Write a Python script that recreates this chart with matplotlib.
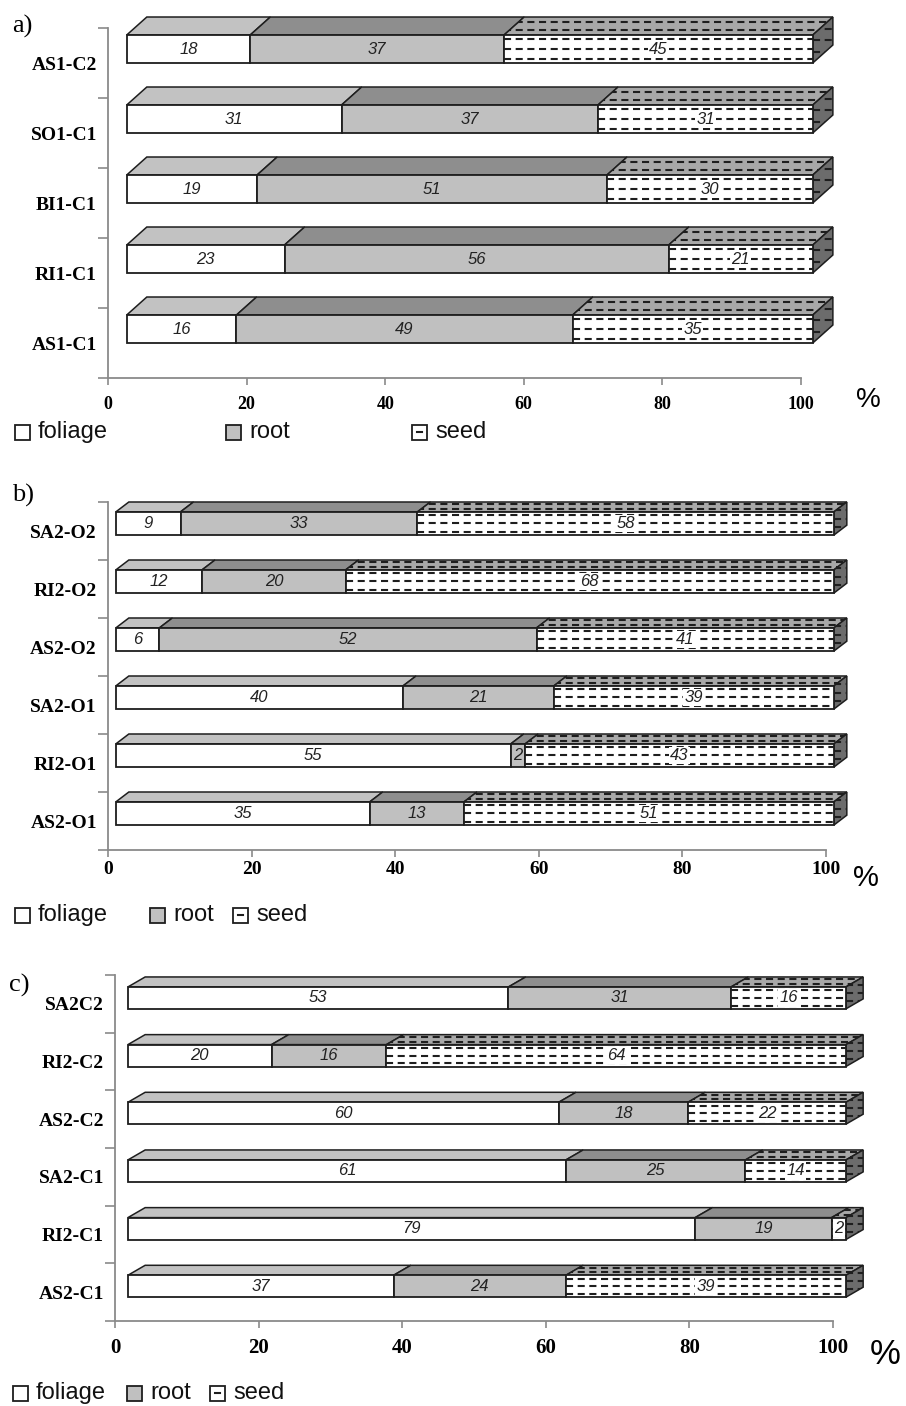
import matplotlib
matplotlib.use("Agg")
import matplotlib.pyplot as plt
from matplotlib.patches import Polygon, Rectangle
import numpy as np

W, H = 906, 1406
DPI = 100

# ---- data (categories listed top to bottom) ----
A_CATS = ["AS1-C2", "SO1-C1", "BI1-C1", "RI1-C1", "AS1-C1"]
A_FOLIAGE = [18, 31, 19, 23, 16]
A_ROOT = [37, 37, 51, 56, 49]
A_SEED = [45, 31, 30, 21, 35]

B_CATS = ["SA2-O2", "RI2-O2", "AS2-O2", "SA2-O1", "RI2-O1", "AS2-O1"]
B_FOLIAGE = [9, 12, 6, 40, 55, 35]
B_ROOT = [33, 20, 52, 21, 2, 13]
B_SEED = [58, 68, 41, 39, 43, 51]

C_CATS = ["SA2C2", "RI2-C2", "AS2-C2", "SA2-C1", "RI2-C1", "AS2-C1"]
C_FOLIAGE = [53, 20, 60, 61, 79, 37]
C_ROOT = [31, 16, 18, 25, 19, 24]
C_SEED = [16, 64, 22, 14, 2, 39]

X_TICKS = [0, 20, 40, 60, 80, 100]
LEGEND_LABELS = ["foliage", "root", "seed"]
PANEL_LABELS = ["a)", "b)", "c)"]

# ---- style ----
FRONT_COLORS = ["white", "#c0c0c0", "white"]
TOP_COLORS = ["#c2c2c2", "#8e8e8e", "#a8a8a8"]
SIDE_COLOR = "#6c6c6c"
EDGE = "#1e1e1e"
AXIS_GRAY = "#8a8a8a"
SERIF = "Liberation Serif"
SANS = "Liberation Sans"
DASH = (0, (3.4, 2.2))

# layout per panel: axes box in px (left, top, right, bottom), 3d geometry in data units
PANELS = [
    dict(box=(108, 28, 801, 378), x0=2.7, k=0.99, h=0.40, base=0.0, dx=2.9, dy=0.257,
         tick_fs=13, cat_fs=14, val_fs=12, xpad=8, ypad=8,
         pct=(868, 400, 20), lab=(12, 26), leg_y=432, leg_x=(15, 226, 412), leg_fs=17),
    dict(box=(108, 502, 826, 850), x0=1.1, k=1.0, h=0.40, base=-0.07, dx=1.8, dy=0.17,
         tick_fs=14, cat_fs=14, val_fs=12, xpad=3, ypad=8,
         pct=(866, 878, 21), lab=(12, 495), leg_y=915, leg_x=(15, 150, 233), leg_fs=17),
    dict(box=(115, 975, 833, 1321), x0=1.8, k=1.0, h=0.38, base=-0.087, dx=2.4, dy=0.173,
         tick_fs=15, cat_fs=14, val_fs=12, xpad=7, ypad=8,
         pct=(885, 1355, 25), lab=(9, 985), leg_y=1393, leg_x=(13, 127, 210), leg_fs=17),
]


def px_to_fig(x, y):
    return x / W, 1 - y / H


def dash_lines(ax, clip_patch, x_from, x_to, ys, z):
    for y in ys:
        ln, = ax.plot([x_from, x_to], [y, y], color=EDGE, lw=1.5, ls=DASH,
                      dash_capstyle="butt", zorder=z)
        ln.set_clip_box(None)
        ln.set_clip_path(clip_patch)


def draw_panel(ax, cats, foliage, root, seed, cfg):
    n = len(cats)
    dx, dy, h = cfg["dx"], cfg["dy"], cfg["h"]
    for i in range(n):
        yc = n - i - 0.5
        vals = [foliage[i], root[i], seed[i]]
        total = float(sum(vals))
        y0 = yc + cfg["base"]
        left = cfg["x0"]
        for j, v in enumerate(vals):
            w = v / total * 100 * cfg["k"]
            top = Polygon([(left, y0 + h), (left + w, y0 + h),
                           (left + w + dx, y0 + h + dy), (left + dx, y0 + h + dy)],
                          closed=True, facecolor=TOP_COLORS[j], edgecolor=EDGE,
                          linewidth=1.1, clip_on=False, zorder=2)
            ax.add_patch(top)
            bar = ax.barh(y0, w, height=h, left=left, align="edge",
                          color=FRONT_COLORS[j], edgecolor=EDGE, linewidth=1.3,
                          clip_on=False, zorder=3)[0]
            if j == 2:
                dash_lines(ax, bar, left, left + w,
                           [y0 + h * f for f in (0.15, 0.5, 0.85)], 4)
                dash_lines(ax, top, left, left + w + dx,
                           [y0 + h + dy * f for f in (0.3, 0.75)], 2.5)
            box = None
            if j == 2:
                box = dict(facecolor="white", edgecolor="none", pad=1.0)
            ax.text(left + w / 2, y0 + h / 2, str(v), ha="center", va="center",
                    fontsize=cfg["val_fs"], fontstyle="italic", family=SANS,
                    color="#222222", zorder=6, bbox=box)
            left += w
        # right side face of the bar
        side = Polygon([(left, y0), (left, y0 + h), (left + dx, y0 + h + dy), (left + dx, y0 + dy)],
                       closed=True, facecolor=SIDE_COLOR, edgecolor=EDGE,
                       linewidth=1.1, clip_on=False, zorder=2)
        ax.add_patch(side)
        dash_lines(ax, side, left, left + dx,
                   [y0 + (h + dy) * f for f in (0.25, 0.5, 0.75)], 2.5)

    ax.set_xlim(0, 100)
    ax.set_ylim(0, n)
    for s in ("top", "right"):
        ax.spines[s].set_visible(False)
    for s in ("left", "bottom"):
        ax.spines[s].set_color(AXIS_GRAY)
        ax.spines[s].set_linewidth(1.3)

    ax.set_xticks(X_TICKS)
    ax.set_xticklabels([str(t) for t in X_TICKS], family=SERIF, fontweight="bold",
                       fontsize=cfg["tick_fs"])
    ax.tick_params(axis="x", direction="out", length=5, width=1.2, color=AXIS_GRAY,
                   pad=cfg["xpad"])
    ax.set_yticks(np.arange(n + 1))
    ax.set_yticklabels([])
    ax.set_yticks(np.arange(n) + 0.5, minor=True)
    ax.set_yticklabels(cats[::-1], minor=True, family=SERIF, fontweight="bold",
                       fontsize=cfg["cat_fs"])
    ax.tick_params(axis="y", which="major", direction="out", length=7, width=1.2,
                   color=AXIS_GRAY)
    ax.tick_params(axis="y", which="minor", length=0, pad=cfg["ypad"])


def draw_legend(fig, cfg):
    size = 15
    yc = cfg["leg_y"]
    for j, (lab, xb) in enumerate(zip(LEGEND_LABELS, cfg["leg_x"])):
        fx, fy = px_to_fig(xb, yc + size / 2)
        rect = Rectangle((fx, fy), size / W, size / H, transform=fig.transFigure,
                         facecolor="#c0c0c0" if j == 1 else "white",
                         edgecolor=EDGE, linewidth=1.3)
        fig.patches.append(rect)
        if j == 2:
            lx0, ly = px_to_fig(xb + 5, yc)
            lx1, _ = px_to_fig(xb + 10, yc)
            fig.add_artist(plt.Line2D([lx0, lx1], [ly, ly], transform=fig.transFigure,
                                      color=EDGE, lw=1.5))
        tx, ty = px_to_fig(xb + size + 8, yc)
        fig.text(tx, ty, lab, family=SANS, fontsize=cfg["leg_fs"], va="center", ha="left",
                 color="#111111")


fig = plt.figure(figsize=(W / DPI, H / DPI), dpi=DPI)
fig.patch.set_facecolor("white")

datasets = [
    (A_CATS, A_FOLIAGE, A_ROOT, A_SEED),
    (B_CATS, B_FOLIAGE, B_ROOT, B_SEED),
    (C_CATS, C_FOLIAGE, C_ROOT, C_SEED),
]

for cfg, data, plab in zip(PANELS, datasets, PANEL_LABELS):
    l, t, r, b = cfg["box"]
    ax = fig.add_axes([l / W, 1 - b / H, (r - l) / W, (b - t) / H])
    ax.patch.set_alpha(0)
    draw_panel(ax, *data, cfg)
    draw_legend(fig, cfg)
    px, py, pfs = cfg["pct"]
    fx, fy = px_to_fig(px, py)
    fig.text(fx, fy, "%", family=SANS, fontsize=pfs, ha="center", va="center")
    lx, ly = px_to_fig(*cfg["lab"])
    fig.text(lx, ly, plab, family=SERIF, fontsize=19, ha="left", va="center")

fig.savefig("out.png", dpi=DPI, facecolor="white")
